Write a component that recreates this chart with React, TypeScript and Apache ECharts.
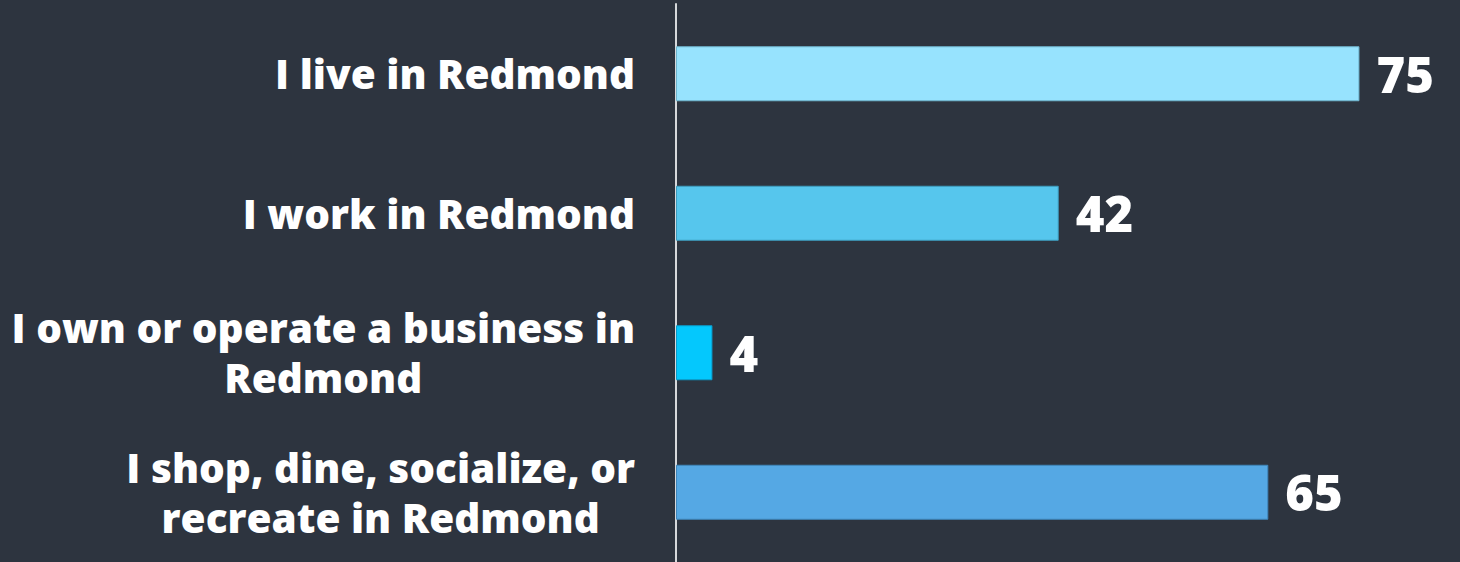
import React, { useEffect, useRef } from "react";
import * as echarts from "echarts";

const categories: string[][] = [
  ["I live in Redmond"],
  ["I work in Redmond"],
  ["I own or operate a business in", "Redmond"],
  ["I shop, dine, socialize, or", "recreate in Redmond"],
];
const values: number[] = [75, 42, 4, 65];
const barColors: string[] = ["#97e3fe", "#56c6ed", "#04c8fd", "#55a8e4"];
const barBorders: string[] = ["#6fb6cf", "#3e9cbe", "#0a9ccb", "#3f86bb"];

const FONT = "'Open Sans', Lato, sans-serif";

export default function App() {
  const ref = useRef<HTMLDivElement>(null);
  useEffect(() => {
    if (!ref.current) return;
    const chart = echarts.init(ref.current, undefined, { renderer: "svg" });
    chart.setOption({
      animation: false,
      backgroundColor: "#2d343f",
      grid: { left: 676, top: 4, width: 729, height: 560 },
      xAxis: {
        type: "value",
        min: 0,
        max: 80,
        show: false,
      },
      yAxis: {
        type: "category",
        inverse: true,
        data: categories.map((c, i) => String(i)),
        axisLine: { show: true, lineStyle: { color: "#d6d8db", width: 2 } },
        axisTick: { show: false },
        axisLabel: {
          margin: 41,
          color: "#ffffff",
          fontFamily: FONT,
          fontWeight: 800,
          fontSize: 40.5,
          lineHeight: 50,
          formatter: (v: string) =>
            categories[Number(v)].map((l) => `{c|${l}}`).join("\n"),
          rich: {
            c: {
              align: "center",
              color: "#ffffff",
              fontFamily: FONT,
              fontWeight: 800,
              fontSize: 40.5,
              lineHeight: 50,
            },
          },
        },
      },
      series: [
        {
          type: "bar",
          barWidth: 55,
          data: values.map((v, i) => ({
            value: v,
            itemStyle: { color: barColors[i], borderColor: barBorders[i], borderWidth: 1 },
          })),
          label: {
            show: true,
            position: "right",
            distance: 17,
            color: "#ffffff",
            fontFamily: FONT,
            fontWeight: 800,
            fontSize: 49,
          },
        },
      ],
    });
    return () => chart.dispose();
  }, []);
  return (
    <div
      ref={ref}
      style={{ position: "fixed", left: 0, top: 0, width: 1460, height: 562, background: "#2d343f" }}
    />
  );
}
